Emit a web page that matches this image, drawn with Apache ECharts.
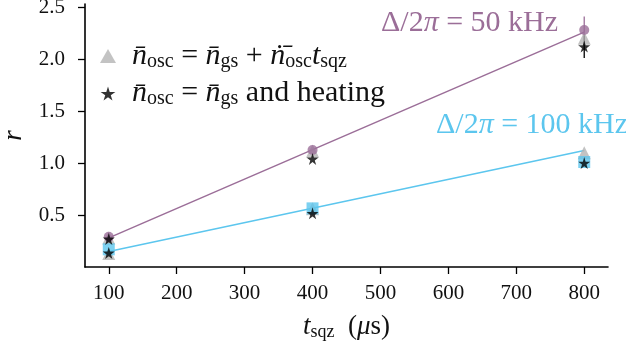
<!DOCTYPE html>
<html>
<head>
<meta charset="utf-8">
<script src="https://cdn.jsdelivr.net/npm/echarts@6/dist/echarts.min.js"></script>
<style>
  html, body { margin: 0; padding: 0; background: #fff; }
  #chart { width: 626px; height: 347px; }
</style>
</head>
<body>
<div id="chart"></div>
<script>
// squeezing times (us)
var tsqz = [100, 400, 800];
var xTicks = [100, 200, 300, 400, 500, 600, 700, 800];
var yTicks = [0.5, 1.0, 1.5, 2.0, 2.5];

// Delta/2pi = 50 kHz
var r50 = [0.29, 1.125, 2.28];
var r50Err = [0, 0, 0.13];
var r50Model = [0.28, 1.115, 2.2];
var r50Heat = [0.27, 1.04, 2.12];
var r50HeatErr = [0, 0, 0.11];
var fit50X = [100, 800];
var fit50 = [0.28, 2.26];

// Delta/2pi = 100 kHz
var r100 = [0.17, 0.564, 1.01];
var r100Model = [0.13, 0.56, 1.1];
var r100Heat = [0.135, 0.516, 1.0];
var fit100X = [100, 800];
var fit100 = [0.15, 1.12];

var purple = '#9b6e98';
var blue = '#5cc6ee';
var grey = '#b4b4b4';
var serif = 'Liberation Serif';
var star = 'path://M50,0 L61,35 L98,35 L68,57 L79,91 L50,70 L21,91 L32,57 L2,35 L39,35 Z';

function pairs(xs, ys) {
	return xs.map(function(x, i) { return [x, ys[i]]; });
}

function errData(xs, ys, es) {
	var out = [];
	for (var i = 0; i < xs.length; i++) {
		if (es[i] > 0) out.push([xs[i], ys[i] - es[i], ys[i] + es[i]]);
	}
	return out;
}

function errorSeries(data, color) {
	return {
		type: 'custom',
		data: data,
		z: 1,
		renderItem: function(params, api) {
			var lo = api.coord([api.value(0), api.value(1)]);
			var hi = api.coord([api.value(0), api.value(2)]);
			return {
				type: 'line',
				shape: { x1: lo[0], y1: lo[1], x2: hi[0], y2: hi[1] },
				style: { stroke: color, lineWidth: 1.3 }
			};
		}
	};
}

function mathStyle(size, subSize, pad) {
	return {
		it: { fontFamily: serif, fontStyle: 'italic', fontSize: size, color: '#111' },
		sub: { fontFamily: serif, fontSize: subSize, color: '#111', verticalAlign: 'bottom', padding: [pad, 0, 0, 0] },
		r: { fontFamily: serif, fontSize: size, color: '#111' }
	};
}

var legendText = {
	model: '{it|n\u0304}{sub|osc}{r| = }{it|n\u0304}{sub|gs}{r| + }{it|n\u0307\u0304}{sub|osc}{it|t}{sub|sqz}',
	heat: '{it|n\u0304}{sub|osc}{r| = }{it|n\u0304}{sub|gs}{r| and heating}'
};

var chart = echarts.init(document.getElementById('chart'));
chart.setOption({
	animation: false,
	grid: { left: 85, right: 18, top: 4, bottom: 80, outerBoundsMode: 'none' },
	xAxis: {
		type: 'value',
		min: 65,
		max: 835,
		name: '{it|t}{sub|sqz}{r|  (}{it|\u03bc}{r|s)}',
		nameLocation: 'middle',
		nameGap: 46,
		nameTextStyle: { rich: mathStyle(27, 18, 10) },
		axisLine: { lineStyle: { color: '#000', width: 1.6 } },
		axisTick: { customValues: xTicks, length: 7, lineStyle: { color: '#000', width: 1.3 } },
		axisLabel: { customValues: xTicks, fontFamily: serif, fontSize: 21, color: '#111', margin: 16 },
		splitLine: { show: false }
	},
	yAxis: {
		type: 'value',
		min: 0,
		max: 2.53,
		name: '{it|r}',
		nameLocation: 'middle',
		nameGap: 56,
		nameTextStyle: { rich: mathStyle(27, 18, 10) },
		axisLine: { show: true, lineStyle: { color: '#000', width: 1.6 } },
		axisTick: { show: true, customValues: yTicks, length: 7, lineStyle: { color: '#000', width: 1.3 } },
		axisLabel: {
			customValues: yTicks, fontFamily: serif, fontSize: 21, color: '#111', margin: 20,
			formatter: function(v) { return v.toFixed(1); }
		},
		splitLine: { show: false }
	},
	legend: {
		orient: 'vertical',
		left: 95,
		top: 36,
		itemGap: 7,
		itemWidth: 16,
		itemHeight: 14,
		data: [
			{ name: 'model', icon: 'triangle', itemStyle: { color: grey } },
			{ name: 'heat', icon: star, itemStyle: { color: '#000' } }
		],
		formatter: function(name) { return legendText[name]; },
		textStyle: { rich: mathStyle(30, 20, 11), padding: [0, 0, 0, 11] }
	},
	graphic: [
		{
			type: 'text', left: 381, top: 8,
			style: {
				text: '\u0394/2{it|\u03c0} = 50 kHz',
				fontFamily: serif, fontSize: 30, fill: purple,
				rich: { it: { fontFamily: serif, fontStyle: 'italic', fontSize: 30, color: purple } }
			}
		},
		{
			type: 'text', left: 436, top: 110,
			style: {
				text: '\u0394/2{it|\u03c0} = 100 kHz',
				fontFamily: serif, fontSize: 30, fill: blue,
				rich: { it: { fontFamily: serif, fontStyle: 'italic', fontSize: 30, color: blue } }
			}
		}
	],
	series: [
		errorSeries(errData(tsqz, r50, r50Err), purple),
		errorSeries(errData(tsqz, r50Heat, r50HeatErr), '#000'),
		{
			type: 'line', data: pairs(fit50X, fit50), showSymbol: false, z: 2,
			lineStyle: { color: purple, width: 1.5 }, silent: true
		},
		{
			type: 'line', data: pairs(fit100X, fit100), showSymbol: false, z: 2,
			lineStyle: { color: blue, width: 1.5 }, silent: true
		},
		{
			name: 'model', type: 'scatter', data: pairs(tsqz, r50Model), z: 3,
			symbol: 'triangle', symbolSize: 13, itemStyle: { color: grey }
		},
		{
			name: 'model', type: 'scatter', data: pairs(tsqz, r100Model), z: 3,
			symbol: 'triangle', symbolSize: 13, itemStyle: { color: grey }
		},
		{
			type: 'scatter', data: pairs(tsqz, r50), z: 4,
			symbol: 'circle', symbolSize: 10, itemStyle: { color: purple }
		},
		{
			type: 'scatter', data: pairs(tsqz, r100), z: 4,
			symbol: 'rect', symbolSize: 12, itemStyle: { color: blue }
		},
		{
			name: 'heat', type: 'scatter', data: pairs(tsqz, r50Heat), z: 5,
			symbol: star, symbolSize: 12, itemStyle: { color: '#000' }
		},
		{
			name: 'heat', type: 'scatter', data: pairs(tsqz, r100Heat), z: 5,
			symbol: star, symbolSize: 12, itemStyle: { color: '#000' }
		}
	]
});
</script>
</body>
</html>
